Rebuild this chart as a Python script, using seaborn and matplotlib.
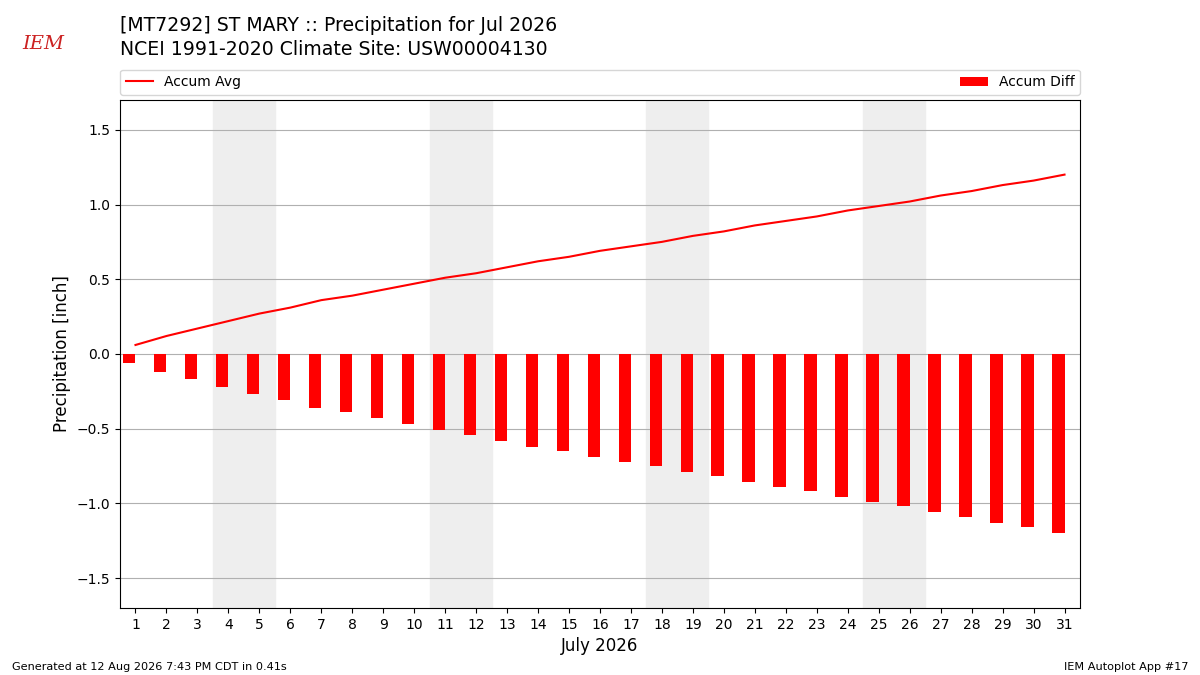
import matplotlib
matplotlib.use("Agg")
import matplotlib.pyplot as plt
import numpy as np
import pandas as pd
import seaborn as sns

# July 2026 daily accumulated precipitation (inch)
days = list(range(1, 32))
accum_avg = [
    0.06, 0.12, 0.17, 0.22, 0.27, 0.31, 0.36, 0.39, 0.43, 0.47,
    0.51, 0.54, 0.58, 0.62, 0.65, 0.69, 0.72, 0.75, 0.79, 0.82,
    0.86, 0.89, 0.92, 0.96, 0.99, 1.02, 1.06, 1.09, 1.13, 1.16, 1.20,
]
accum_diff = [
    -0.06, -0.12, -0.17, -0.22, -0.27, -0.31, -0.36, -0.39, -0.43, -0.47,
    -0.51, -0.54, -0.58, -0.62, -0.65, -0.69, -0.72, -0.75, -0.79, -0.82,
    -0.86, -0.89, -0.92, -0.96, -0.99, -1.02, -1.06, -1.09, -1.13, -1.16, -1.20,
]
weekends = [(4, 5), (11, 12), (18, 19), (25, 26)]

title_lines = [
    "[MT7292] ST MARY :: Precipitation for Jul 2026",
    "NCEI 1991-2020 Climate Site: USW00004130",
]

df = pd.DataFrame({"day": days, "avg": accum_avg, "diff": accum_diff})
# bars sit just left of each day tick
df["barpos"] = df["day"] - 0.2

fig = plt.figure(figsize=(12, 6.75), dpi=100)
ax = fig.add_axes([0.1, 0.0993, 0.8, 0.7527])

for start, end in weekends:
    ax.axvspan(start - 0.5, end + 0.5, color="#eeeeee", zorder=0)

sns.barplot(data=df, x="barpos", y="diff", native_scale=True, width=0.4,
            color="r", saturation=1, ax=ax, zorder=2)
sns.lineplot(data=df, x="day", y="avg", color="r", linewidth=1.5, ax=ax, zorder=3)

ax.set_xlim(0.5, 31.5)
ax.set_ylim(-1.7, 1.7)
ax.set_xticks(days)
ax.set_xticklabels([str(d) for d in days])
ax.set_yticks(np.arange(-1.5, 1.51, 0.5))
ax.yaxis.grid(True, color="#b0b0b0", linewidth=0.8)
ax.set_axisbelow(True)
ax.set_xlabel("July 2026", fontsize=12)
ax.set_ylabel("Precipitation [inch]", fontsize=12)

line_handle = ax.lines[-1]
bar_handle = ax.patches[len(weekends)]
ax.legend([line_handle, bar_handle], ["Accum Avg", "Accum Diff"],
          loc="lower left", bbox_to_anchor=(0, 1.01, 1, 0.05),
          mode="expand", ncol=2, borderaxespad=0, fontsize=10)

fig.text(0.1, 0.977, "\n".join(title_lines), fontsize=13.6, va="top", ha="left",
         linespacing=1.35)
fig.text(0.036, 0.935, "IEM", fontsize=14, color="#cc2222", family="serif",
         style="italic", ha="center", va="center")
fig.text(0.01, 0.008, "Generated at 12 Aug 2026 7:43 PM CDT in 0.41s", fontsize=8.1)
fig.text(0.99, 0.008, "IEM Autoplot App #17", fontsize=8.1, ha="right")

fig.savefig("out.png", dpi=100)
